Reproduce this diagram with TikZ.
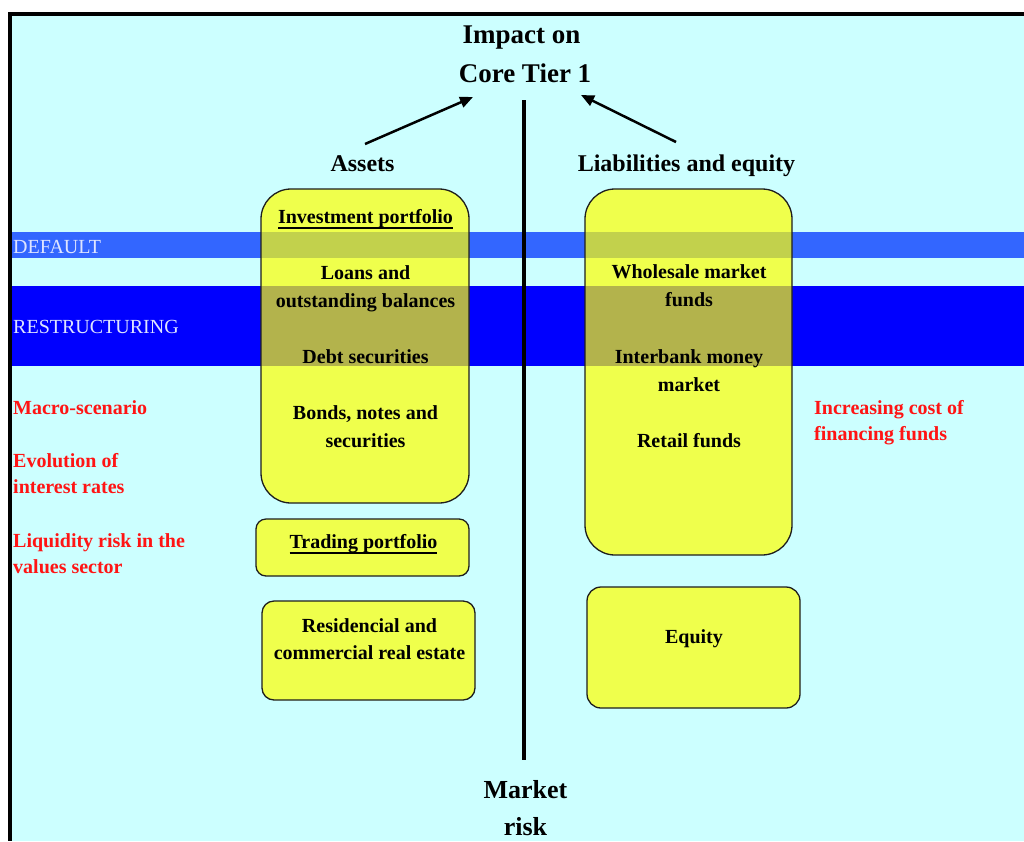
\documentclass[tikz,border=0pt]{standalone}
\usepackage{fontspec}
\setmainfont{Liberation Serif}
\usetikzlibrary{arrows.meta}
\definecolor{bgcyan}{RGB}{204,255,255}
\definecolor{bandlight}{RGB}{51,102,255}
\definecolor{banddark}{RGB}{0,0,255}
\definecolor{boxyellow}{RGB}{255,255,0}
\definecolor{boxedge}{RGB}{30,30,30}
\definecolor{bandtext}{RGB}{222,228,255}
\definecolor{redtext}{RGB}{255,20,20}
\newcommand\ulx[1]{\setbox0\hbox{#1}\rlap{\rule[-5.5pt]{\wd0}{2pt}}\box0}
\tikzset{
  ybox/.style={draw=boxedge, line width=1.3pt, fill=boxyellow, fill opacity=0.7, inner sep=0pt},
  boxtxt/.style={inner sep=0pt, anchor=base, font=\fontsize{20}{24}\selectfont\bfseries},
  headtxt/.style={inner sep=0pt, anchor=base, font=\fontsize{24}{28}\selectfont\bfseries},
  bigtxt/.style={inner sep=0pt, anchor=base, font=\fontsize{27}{32}\selectfont\bfseries},
  redlbl/.style={inner sep=0pt, anchor=base west, text=redtext, font=\fontsize{20}{24}\selectfont\bfseries},
  bandlbl/.style={inner sep=0pt, anchor=base west, text=bandtext, font=\fontsize{20}{24}\selectfont},
  arr/.style={line width=2.5pt, -{Triangle[length=13pt,width=11pt]}}
}
\begin{document}
\begin{tikzpicture}[x=1pt,y=-1pt]
\useasboundingbox (0,0) rectangle (1024,841);
\fill[white] (0,0) rectangle (1024,841);
\fill[bgcyan] (8,12) rectangle (1024,841);
\fill[black] (8,12) rectangle (1024,16);
\fill[black] (8,12) rectangle (12,841);
% bands
\fill[bandlight] (12,232) rectangle (1024,258);
\fill[banddark] (12,286) rectangle (1024,366);
\node[bandlbl] (default) at (13,253) {DEFAULT};
\node[bandlbl] (restr) at (13,333) {RESTRUCTURING};
% boxes
\node[ybox, rounded corners=30pt, minimum width=208pt, minimum height=314pt] (inv) at (365,346) {};
\node[ybox, rounded corners=30pt, minimum width=207pt, minimum height=366pt] (liab) at (688.5,372) {};
\node[ybox, rounded corners=10pt, minimum width=213pt, minimum height=57pt] (trade) at (362.5,547.5) {};
\node[ybox, rounded corners=12pt, minimum width=213pt, minimum height=99pt] (resid) at (368.5,650.5) {};
\node[ybox, rounded corners=14pt, minimum width=213pt, minimum height=121pt] (equity) at (693.5,647.5) {};
% box texts
\node[boxtxt] (invt) at (365.5,223) {\ulx{Investment portfolio}};
\node[boxtxt] (loans1) at (365.5,279) {Loans and};
\node[boxtxt] (loans2) at (365.5,307) {outstanding balances};
\node[boxtxt] (debt) at (365.5,363) {Debt securities};
\node[boxtxt] (bonds1) at (365.5,419) {Bonds, notes and};
\node[boxtxt] (bonds2) at (365.5,447) {securities};
\node[boxtxt] (whole1) at (689,278) {Wholesale market};
\node[boxtxt] (whole2) at (689,306) {funds};
\node[boxtxt] (inter1) at (689,363) {Interbank money};
\node[boxtxt] (inter2) at (689,391) {market};
\node[boxtxt] (retail) at (689,447) {Retail funds};
\node[boxtxt] (tradet) at (363.5,548) {\ulx{Trading portfolio}};
\node[boxtxt] (resid1) at (369.5,632) {Residencial and};
\node[boxtxt] (resid2) at (369.5,659) {commercial real estate};
\node[boxtxt] (equityt) at (694,643) {Equity};
% headings
\node[bigtxt] (impact) at (521.5,43) {Impact on};
\node[bigtxt] (core) at (525,82) {Core Tier 1};
\node[headtxt] (assets) at (362.5,171) {Assets};
\node[headtxt] (liabt) at (686.5,171) {Liabilities and equity};
\node[font=\fontsize{26}{30}\selectfont\bfseries, inner sep=0pt, anchor=base] (market) at (525.5,798) {Market};
\node[font=\fontsize{26}{30}\selectfont\bfseries, inner sep=0pt, anchor=base] (risk) at (525.5,835) {risk};
% red labels
\node[redlbl] (macro) at (13,414) {Macro-scenario};
\node[redlbl] (evol1) at (13,467) {Evolution of};
\node[redlbl] (evol2) at (13,493) {interest rates};
\node[redlbl] (liq1) at (13,547) {Liquidity risk in the};
\node[redlbl] (liq2) at (13,573) {values sector};
\node[redlbl] (cost1) at (814,414) {Increasing cost of};
\node[redlbl] (cost2) at (814,440) {financing funds};
% divider
\coordinate (vtop) at (524,100);
\coordinate (vbot) at (524,760);
\draw[line width=4pt] (vtop) -- (vbot);
% arrows
\coordinate (aStart) at (365,144);
\coordinate (aEnd) at (473,97);
\coordinate (lStart) at (676,142);
\coordinate (lEnd) at (581,95);
\draw[arr] (aStart) -- (aEnd);
\draw[arr] (lStart) -- (lEnd);
\end{tikzpicture}
\end{document}
